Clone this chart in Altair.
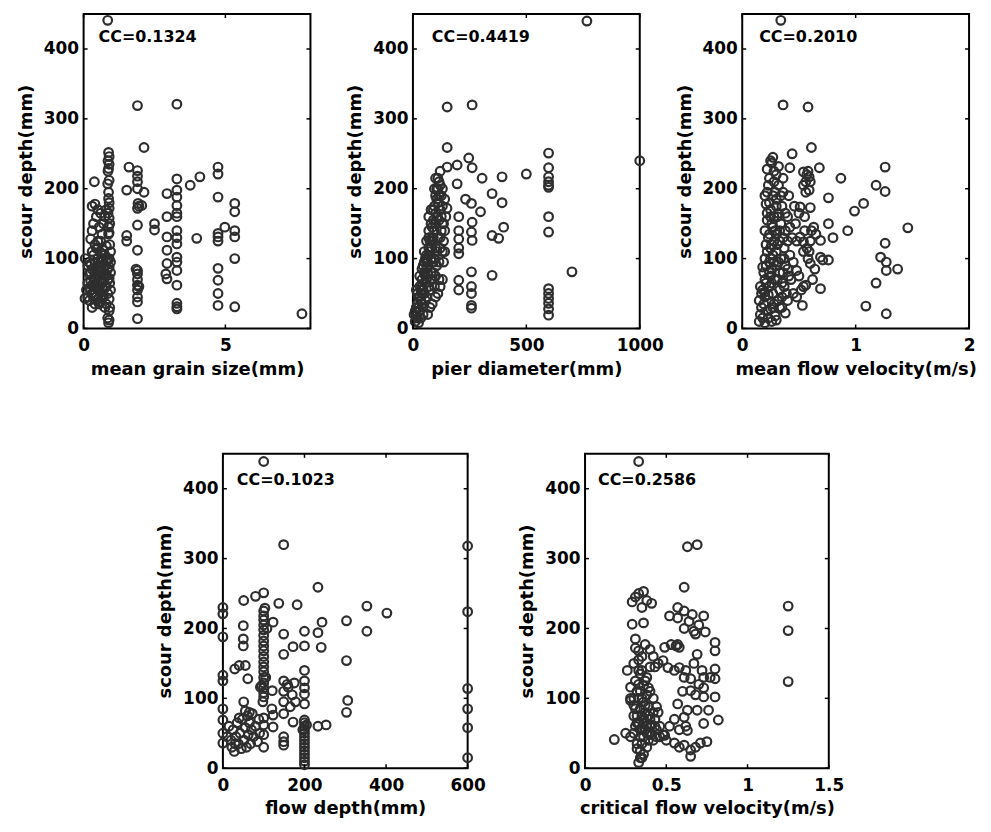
import altair as alt
import pandas as pd

Y_TITLE = "scour depth(mm)"
Y_TICKS = [0, 100, 200, 300, 400]

# Panel 1: mean grain size (mm) vs scour depth (mm)
p1_x = [0.85, 0.88, 0.9, 0.86, 0.9, 0.88, 0.9, 0.85, 0.88, 0.9, 0.86, 0.9, 0.88, 0.9,
        0.15, 0.2, 0.25, 0.3, 0.35, 0.4, 0.45, 0.5, 0.55, 0.6, 0.65, 0.7, 0.75, 0.8, 0.85, 0.9, 0.95,
        0.3, 0.4, 0.5, 0.6, 0.7, 0.45, 0.55, 0.65, 0.75, 0.8, 0.35, 0.25, 0.2, 0.15, 0.4, 0.5, 0.6,
        0.7, 0.8, 0.9, 0.95, 0.9, 0.85, 0.88, 0.9, 0.92, 0.6, 0.5, 0.7, 0.45, 0.55, 0.65, 0.75, 0.85,
        0.95, 0.35, 0.25, 0.3, 0.2, 0.92, 0.85, 0.9, 0.88,
        0.3, 0.4, 0.5, 0.45, 0.35, 0.55, 0.3, 0.6, 0.25, 0.5, 0.65, 0.7, 0.75, 0.8, 0.38, 0.06, 0.05,
        0.1, 0.2, 0.3, 0.4, 0.5, 0.6, 0.7, 0.8, 0.45, 0.55, 0.65, 0.75, 0.35, 0.25, 0.15, 0.5, 0.6,
        0.7, 0.8, 0.3, 0.4, 0.9, 0.95, 0.92, 0.86, 0.92, 0.9, 0.88, 0.86,
        1.6, 1.52, 1.52, 1.52,
        1.9, 1.9, 1.9, 1.9, 1.9, 1.92, 1.9, 1.95, 1.9, 1.9, 1.9, 1.9, 1.9, 1.9, 1.9, 1.9, 1.9, 1.9,
        1.85, 1.95, 2.13, 2.13, 2.05, 2.5, 2.5,
        2.94, 2.94, 2.94, 2.94, 2.94, 2.94, 2.9,
        3.29, 3.29, 3.29, 3.29, 3.29, 3.29, 3.29, 3.29, 3.29, 3.29, 3.29, 3.29, 3.29, 3.29, 3.29, 3.29, 3.29,
        3.76, 4.1, 3.99,
        4.74, 4.74, 4.74, 4.74, 4.74, 4.74, 4.74, 4.74, 4.74, 4.74, 4.98,
        5.33, 5.33, 5.33, 5.33, 5.33, 5.33, 7.7]
p1_y = [441, 252, 246, 240, 235, 229, 212, 207, 186, 172, 165, 158, 145, 137,
        45, 40, 55, 62, 48, 70, 58, 65, 75, 52, 80, 68, 90, 60, 85, 72, 95,
        85, 95, 100, 108, 112, 115, 88, 98, 105, 118, 105, 92, 78, 65, 35, 42, 38,
        45, 35, 42, 55, 25, 15, 8, 12, 30, 80, 82, 55, 75, 60, 65, 78, 50,
        110, 72, 68, 50, 58, 120, 98, 88, 135,
        175, 178, 170, 160, 150, 145, 140, 165, 128, 125, 135, 150, 160, 170, 210, 100, 43,
        55, 95, 110, 120, 55, 95, 85, 95, 45, 35, 45, 30, 60, 80, 90, 115, 125,
        100, 75, 30, 80, 100, 80, 65, 70, 150, 180, 195, 225,
        231, 198, 133, 125,
        319, 226, 218, 210, 200, 179, 172, 175, 148, 112, 83, 78, 70, 62, 55, 45, 38, 14,
        85, 60, 259, 195, 176, 150, 141,
        193, 160, 131, 112, 93, 71, 78,
        321, 214, 198, 188, 176, 165, 160, 140, 130, 121, 102, 95, 83, 62, 36, 31, 28,
        205, 217, 129,
        231, 221, 188, 136, 131, 125, 86, 69, 50, 33, 145,
        179, 167, 140, 131, 100, 31, 21]

# Panel 2: pier diameter (mm) vs scour depth (mm)
p2_x = [767, 151, 261, 151, 151, 195, 246, 261, 305, 195, 232, 258, 298, 202, 202, 202, 202, 202,
        261, 261, 258, 202, 202, 258, 258, 258, 258, 258, 349, 393, 393, 400, 349, 378, 349, 500,
        598, 598, 598, 598, 598, 598, 598, 598, 598, 598, 598, 598, 598, 598, 701, 1000,
        5, 10, 15, 20, 25, 30, 35, 40, 40, 45, 50, 50, 55, 60, 60, 65, 70, 70, 75, 75, 80, 80, 85,
        90, 90, 95, 95, 100, 100, 100, 105, 105, 110, 110, 115, 115, 120, 120, 125, 125, 130, 130,
        135, 110, 100, 120, 85, 65, 30, 20, 45, 25, 55, 70, 90, 100, 115, 130, 140, 145, 80, 60,
        40, 100, 95, 105, 135, 120, 85, 75, 15, 70, 60, 140, 130, 150,
        10, 15, 20, 25, 30, 35, 40, 45, 50, 55, 60, 65, 70, 75, 80, 85, 90, 95, 100, 105, 110, 115,
        120, 110, 95, 80, 70, 60, 50, 40, 30, 55, 45, 35, 120, 125, 130, 105, 90, 115, 135, 140]
p2_y = [440, 317, 320, 259, 231, 234, 244, 230, 215, 207, 185, 179, 167, 160, 140, 128, 115, 107,
        152, 126, 138, 69, 55, 81, 60, 50, 33, 29, 193, 217, 180, 145, 133, 129, 76, 221,
        251, 230, 217, 210, 205, 202, 160, 138, 57, 50, 43, 36, 28, 19, 81, 240,
        20, 10, 30, 15, 45, 25, 55, 35, 70, 90, 50, 110, 75, 125, 45, 95, 140, 60, 110, 30, 150, 80, 125,
        170, 95, 140, 60, 190, 115, 75, 160, 200, 180, 130, 210, 95, 170, 225, 190, 140, 175, 110,
        150, 50, 45, 60, 35, 20, 60, 50, 20, 8, 100, 115, 130, 150, 155, 200, 185, 160, 100, 85,
        50, 215, 100, 90, 125, 115, 70, 55, 55, 160, 105, 140, 70, 172,
        25, 18, 35, 30, 45, 40, 60, 55, 80, 65, 95, 80, 105, 125, 115, 145, 155, 175, 165, 185, 200, 190,
        205, 215, 200, 170, 130, 70, 95, 85, 75, 40, 30, 15, 130, 160, 150, 110, 80, 70, 95, 110]

# Panel 3: mean flow velocity (m/s) vs scour depth (mm)
p3_x = [0.34, 0.36, 0.58, 0.61, 0.44, 0.42, 0.68, 0.87, 0.76, 1.07, 0.99, 0.93, 0.80, 0.76, 0.69,
        0.69, 0.71, 0.76, 0.69, 0.60, 0.61, 0.59, 0.59, 0.56, 0.54, 0.54, 0.6, 0.51, 0.51, 0.54,
        0.54, 0.59, 0.48, 0.54, 0.53, 0.48,
        1.18, 1.26, 1.26, 1.46, 1.26, 1.22, 1.27, 1.27, 1.37, 1.18, 1.09, 1.27,
        0.15, 0.16, 0.17, 0.15, 0.18, 0.16, 0.2, 0.2, 0.22, 0.2, 0.21, 0.22, 0.23, 0.22, 0.21, 0.22,
        0.24, 0.25, 0.27, 0.26, 0.28, 0.24, 0.25, 0.27, 0.26, 0.25, 0.24, 0.26, 0.27, 0.28, 0.29, 0.3,
        0.3, 0.3, 0.3, 0.31, 0.3, 0.32, 0.32, 0.29, 0.33, 0.33, 0.34, 0.33, 0.34, 0.35, 0.36, 0.36,
        0.37, 0.38, 0.37, 0.38, 0.4, 0.41, 0.42, 0.43, 0.45, 0.44, 0.4, 0.35, 0.38, 0.25, 0.23, 0.28,
        0.32, 0.35, 0.4, 0.45, 0.47, 0.5, 0.5, 0.52, 0.56, 0.57, 0.55, 0.58, 0.6, 0.62, 0.64, 0.65,
        0.63, 0.56, 0.58, 0.6, 0.57, 0.48, 0.46, 0.55,
        0.18, 0.19, 0.2, 0.21, 0.19, 0.2, 0.21, 0.2, 0.22, 0.2, 0.23, 0.24, 0.25, 0.24, 0.25, 0.24,
        0.26, 0.25, 0.27, 0.28, 0.26, 0.27, 0.28, 0.29, 0.28, 0.3, 0.29, 0.3, 0.31, 0.31, 0.32, 0.31,
        0.33, 0.32, 0.34, 0.27, 0.23, 0.26, 0.33, 0.35, 0.36, 0.37, 0.36, 0.38, 0.39, 0.41, 0.4,
        0.42, 0.22, 0.18, 0.17]
p3_y = [441, 320, 317, 259, 250, 230, 230, 215, 187, 179, 168, 140, 130, 150, 126,
        102, 98, 98, 57, 93, 140, 198, 217, 210, 205, 224, 173, 174, 131, 110,
        124, 110, 83, 60, 33, 45,
        205, 196, 231, 144, 122, 102, 95, 83, 85, 65, 32, 21,
        10, 20, 30, 40, 55, 60, 8, 45, 25, 70, 90, 110, 130, 155, 178, 195,
        215, 240, 245, 237, 210, 180, 160, 145, 120, 100, 80, 65, 50, 35, 18, 12,
        90, 110, 135, 160, 185, 205, 232, 70, 55, 80, 100, 125, 150, 175, 195, 215,
        115, 90, 60, 140, 160, 190, 105, 70, 50, 130, 40, 30, 22, 28, 48, 95,
        40, 65, 85, 95, 150, 165, 75, 55, 62, 115, 140, 100, 125, 70, 85, 135,
        145, 195, 225, 210, 220, 125, 175, 160,
        15, 35, 52, 65, 80, 100, 120, 140, 165, 190, 205, 60, 75, 95, 115, 135,
        150, 170, 190, 225, 85, 105, 125, 140, 160, 175, 195, 220, 40, 70, 95, 120,
        140, 165, 190, 30, 15, 10, 30, 45, 80, 100, 130, 165, 50, 75, 125,
        145, 228, 88, 50]

# Panel 4: flow depth (mm) vs scour depth (mm)
p4_x = [100, 149, 233, 100, 80, 51, 137, 182, 103, 353, 402, 353, 303, 303, 306, 303, 243, 233,
        200, 149, 123, 172, 200, 241, 149, 200, 200, 200, 200, 200, 233, 253,
        0, 0, 0, 0, 0, 0, 0, 0, 0,
        50, 50, 50, 55, 29, 40, 61, 51,
        15, 20, 25, 28, 32, 35, 38, 42, 45, 48, 52, 55, 58, 60, 62, 65, 68, 70, 72, 75, 80, 85, 88,
        90, 30, 40, 10, 22, 55, 65,
        100, 100, 100, 100, 100, 100, 100, 100, 100, 100, 100, 100, 100, 100, 100, 100, 100, 100,
        98, 100, 100, 100, 100, 95, 105, 108,
        123, 123, 121, 92, 120,
        149, 149, 149, 149, 160, 170, 178, 165, 172, 149, 149, 149, 158, 175,
        200, 200, 200, 200, 200, 200, 200, 200, 200, 200, 200, 200, 200, 200, 205, 196,
        600, 600, 600, 600, 600, 600]
p4_y = [439, 320, 259, 251, 246, 240, 236, 234, 229, 232, 222, 196, 211, 154, 97, 80, 209, 194,
        196, 192, 209, 174, 175, 173, 163, 140, 125, 115, 106, 92, 60, 62,
        230, 221, 188, 133, 125, 85, 69, 50, 36,
        204, 185, 175, 147, 142, 147, 128, 95,
        60, 40, 55, 24, 45, 65, 35, 50, 28, 70, 40, 58, 30, 75, 48, 65, 35, 55, 78, 45, 60, 38, 70,
        50, 35, 72, 45, 30, 82, 80,
        225, 218, 212, 205, 198, 190, 182, 175, 168, 160, 152, 145, 138, 130, 122, 115, 108, 102,
        95, 72, 62, 48, 30, 118, 130, 200,
        59, 76, 111, 116, 85,
        125, 110, 95, 78, 116, 105, 95, 88, 66, 45, 38, 33, 120, 122,
        5, 10, 15, 20, 25, 30, 35, 40, 45, 50, 55, 60, 65, 69, 62, 55,
        318, 224, 114, 85, 58, 15]

# Panel 5: critical flow velocity (m/s) vs scour depth (mm)
p5_x = [0.33, 0.63, 0.69, 0.61, 1.25, 1.25, 1.25, 0.18,
        0.29, 0.31, 0.33, 0.36, 0.38, 0.41, 0.35, 0.29, 0.36, 0.31, 0.31, 0.33, 0.37, 0.4, 0.42, 0.45,
        0.43, 0.26, 0.28, 0.28, 0.28, 0.33, 0.35, 0.38, 0.33, 0.4, 0.42, 0.44, 0.45,
        0.3, 0.32, 0.34, 0.36, 0.38, 0.4, 0.42, 0.44, 0.46, 0.3, 0.32, 0.34, 0.35, 0.33, 0.36, 0.38,
        0.4, 0.34, 0.36, 0.38, 0.32, 0.35, 0.37, 0.3, 0.33, 0.31, 0.36, 0.39, 0.41, 0.43, 0.28, 0.25,
        0.48, 0.5, 0.35, 0.37, 0.39, 0.34, 0.4, 0.35,
        0.3, 0.31, 0.32, 0.33, 0.34, 0.35, 0.36, 0.37, 0.38, 0.39, 0.4, 0.41, 0.42, 0.43, 0.34, 0.36,
        0.35, 0.37, 0.39, 0.31, 0.33, 0.32, 0.34, 0.44, 0.46, 0.3,
        0.52, 0.57, 0.57, 0.61, 0.64, 0.67, 0.61, 0.66, 0.73, 0.68, 0.8, 0.8, 0.49, 0.53, 0.56, 0.58,
        0.57, 0.48, 0.51, 0.55, 0.58, 0.61, 0.65, 0.65, 0.69, 0.73, 0.73, 0.73, 0.8, 0.8, 0.8, 0.82,
        0.73, 0.76, 0.57, 0.63, 0.69, 0.52, 0.55, 0.58, 0.61, 0.55, 0.61, 0.65, 0.65, 0.71, 0.75, 0.63,
        0.49, 0.7, 0.62, 0.67, 0.72, 0.68, 0.6, 0.77, 0.74, 0.7, 0.62, 0.58, 0.68]
p5_y = [439, 317, 320, 259, 232, 197, 124, 41,
        238, 245, 250, 253, 240, 236, 230, 206, 208, 185, 172, 168, 177, 170, 160, 150,
        145, 140, 116, 100, 97, 155, 140, 130, 120, 110, 100, 88, 80,
        75, 65, 55, 45, 60, 50, 40, 55, 45, 50, 35, 25, 15, 8, 20, 30,
        70, 85, 95, 105, 110, 75, 80, 90, 100, 60, 65, 88, 62, 70, 45, 50,
        48, 40, 35, 125, 115, 135, 145, 160,
        100, 85, 75, 65, 45, 58, 72, 90, 50, 40, 60, 48, 80, 60, 110, 118,
        100, 55, 75, 125, 140, 28, 15, 45, 60, 150,
        218, 215, 230, 225, 210, 196, 200, 220, 218, 192, 168, 180, 173, 177, 175, 173,
        177, 154, 144, 140, 144, 130, 128, 111, 163, 102, 115, 130, 128, 142, 102, 69,
        64, 83, 92, 83, 83, 60, 70, 55, 73, 36, 33, 17, 26, 36, 38, 54,
        47, 120, 140, 150, 140, 105, 110, 130, 195, 205, 60, 30, 30]

PANELS = [
    dict(xs=p1_x, ys=p1_y, title="mean grain size(mm)", domain=[0, 8], ticks=[0, 5],
         cc="CC=0.1324", w=228, tx=15, ty=28),
    dict(xs=p2_x, ys=p2_y, title="pier diameter(mm)", domain=[0, 1000], ticks=[0, 500, 1000],
         cc="CC=0.4419", w=228, tx=19, ty=28),
    dict(xs=p3_x, ys=p3_y, title="mean flow velocity(m/s)", domain=[0, 2], ticks=[0, 1, 2],
         cc="CC=0.2010", w=228, tx=17, ty=28),
    dict(xs=p4_x, ys=p4_y, title="flow depth(mm)", domain=[0, 600], ticks=[0, 200, 400, 600],
         cc="CC=0.1023", w=246, tx=14, ty=31),
    dict(xs=p5_x, ys=p5_y, title="critical flow velocity(m/s)", domain=[0, 1.5],
         ticks=[0, 0.5, 1, 1.5], cc="CC=0.2586", w=245, tx=13, ty=31),
]

H = 316
FONT = "DejaVu Sans"
TL = 4  # inward tick length


def make_panel(p):
    W = p["w"]
    df = pd.DataFrame({"x": p["xs"], "y": p["ys"]})
    xscale = alt.Scale(domain=p["domain"], nice=False, zero=False)
    yscale = alt.Scale(domain=[0, 450], nice=False, zero=False)
    common_axis = dict(ticks=False, domain=False, grid=False, format="~r",
                       labelFont=FONT, labelFontWeight="bold", labelFontSize=17,
                       labelColor="black", titleFont=FONT, titleFontWeight="bold",
                       titleFontSize=18, titleColor="black",
                       labelFlush=False, labelOverlap=False)
    xaxis = alt.Axis(values=p["ticks"], title=p["title"], labelPadding=9, titlePadding=7,
                     **common_axis)
    yaxis = alt.Axis(values=Y_TICKS, title=Y_TITLE, labelPadding=5, titlePadding=8,
                     **common_axis)
    X = alt.X("x:Q", scale=xscale, axis=xaxis)
    Y = alt.Y("y:Q", scale=yscale, axis=yaxis)
    pts = alt.Chart(df).mark_point(shape="circle", filled=False, size=76, strokeWidth=2.2,
                                   color="#2e2e2e", opacity=1).encode(x=X, y=Y)
    xt = pd.DataFrame({"x": p["ticks"]})
    yt = pd.DataFrame({"y": Y_TICKS})
    tb = alt.Chart(xt).mark_rule(color="black", strokeWidth=1.5).encode(
        x=X, y=alt.value(H), y2=alt.value(H - TL))
    tt = alt.Chart(xt).mark_rule(color="black", strokeWidth=1.5).encode(
        x=X, y=alt.value(0), y2=alt.value(TL))
    tl = alt.Chart(yt).mark_rule(color="black", strokeWidth=1.5).encode(
        y=Y, x=alt.value(0), x2=alt.value(TL))
    tr = alt.Chart(yt).mark_rule(color="black", strokeWidth=1.5).encode(
        y=Y, x=alt.value(W), x2=alt.value(W - TL))
    txt = alt.Chart(pd.DataFrame({"t": [p["cc"]]})).mark_text(
        align="left", baseline="alphabetic", font=FONT, fontWeight="bold", fontSize=16,
        color="black").encode(text="t:N", x=alt.value(p["tx"]), y=alt.value(p["ty"]))
    return alt.layer(pts, tb, tt, tl, tr, txt).properties(
        width=W, height=H,
        view=alt.ViewBackground(stroke="black", strokeWidth=2, fill="white"))


panels = [make_panel(p) for p in PANELS]

spacer = alt.Chart(pd.DataFrame({"a": [0]})).mark_point(opacity=0).encode(
    x=alt.X("a:Q", axis=None), y=alt.Y("a:Q", axis=None)
).properties(width=22, height=H, view=alt.ViewBackground(strokeOpacity=0))

top = alt.hconcat(panels[0], panels[1], panels[2], spacing=103, bounds="flush")
bottom = alt.hconcat(spacer, panels[3], panels[4], spacing=118, bounds="flush")

chart = alt.vconcat(top, bottom, spacing=72).properties(
    padding={"left": 8, "top": 0, "right": 5, "bottom": 5},
    background="white",
)

chart.save("out.html", embed_options={"renderer": "svg", "actions": False})
